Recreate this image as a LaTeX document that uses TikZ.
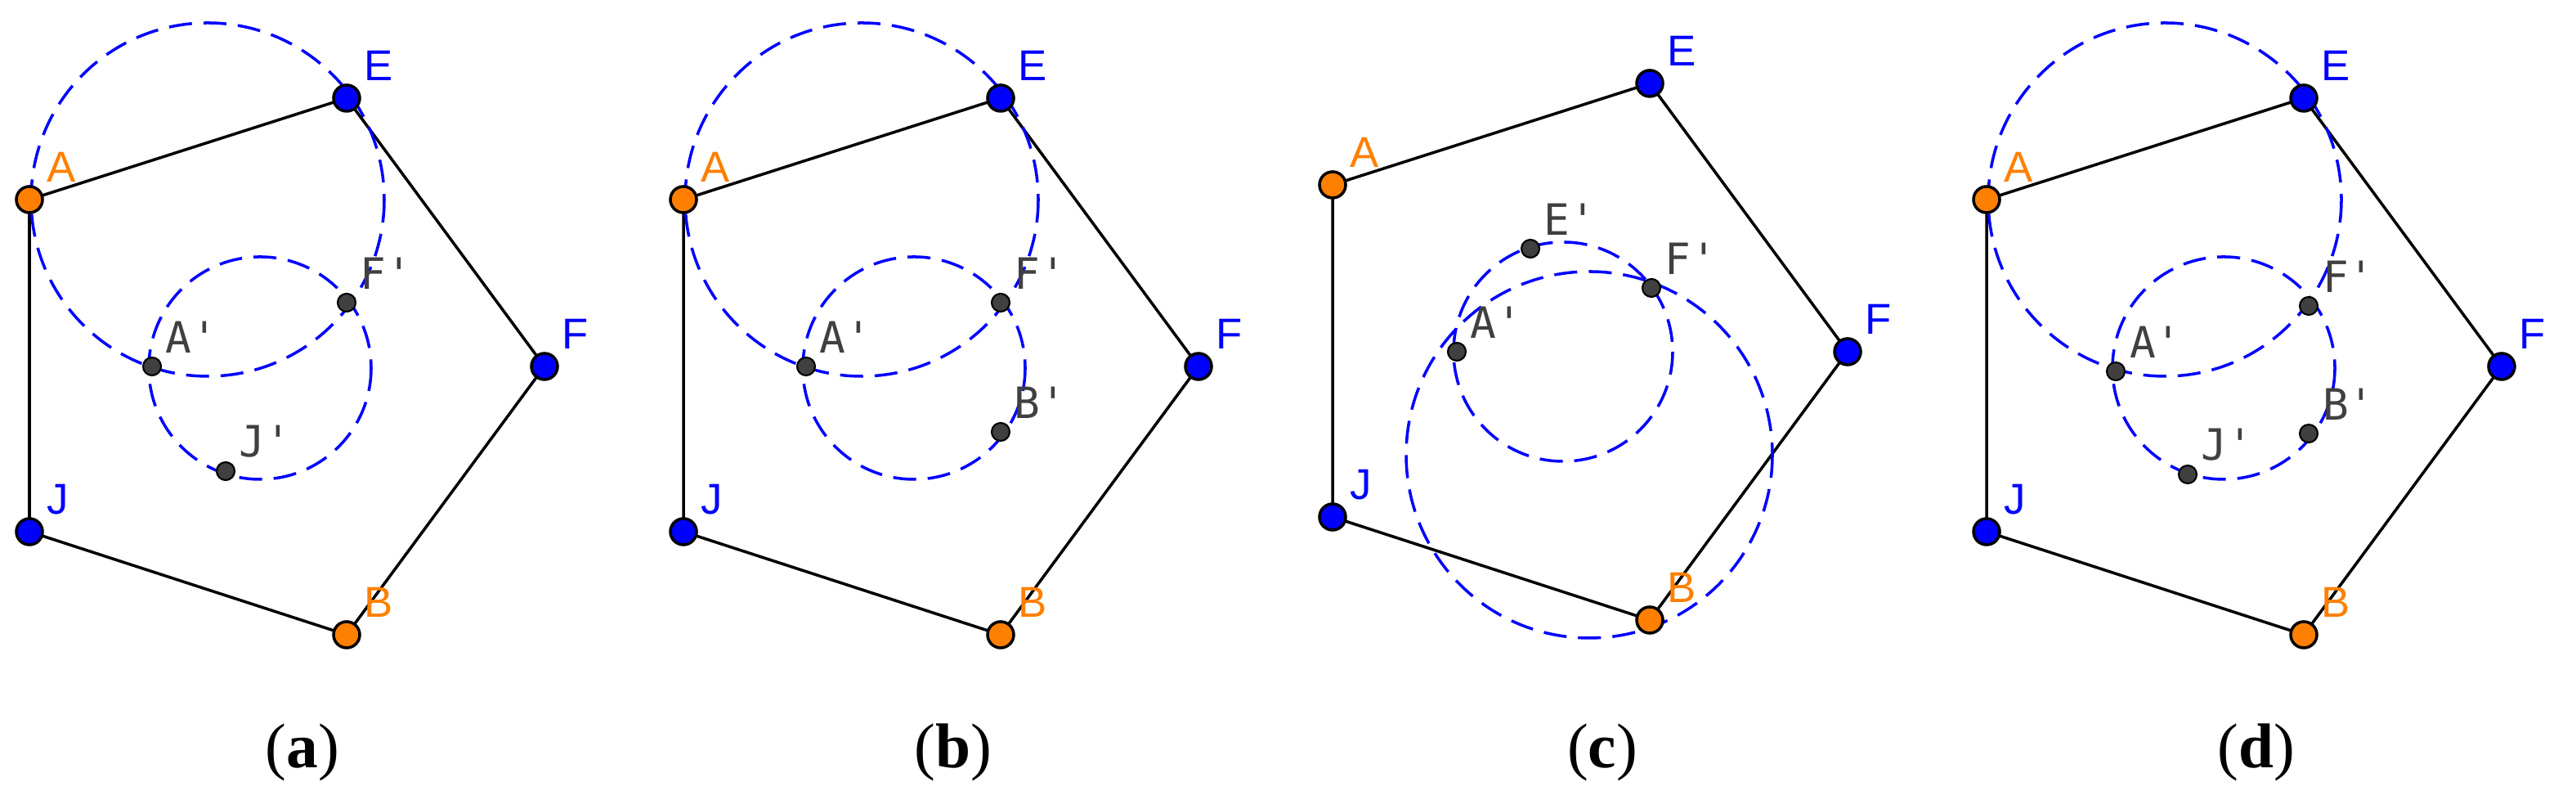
\documentclass[tikz,border=0pt]{standalone}
\usepackage{fontspec}
\setmainfont{Liberation Sans}
\newfontfamily\monofont{DejaVu Sans Mono}
\newfontfamily\capfont{Liberation Serif}
\definecolor{ptblue}{RGB}{0,0,255}
\definecolor{ptorange}{RGB}{255,127,0}
\definecolor{ptgray}{RGB}{64,64,64}
\tikzset{
	bigpt/.style={circle,draw=black,line width=.5pt,inner sep=0pt,minimum size=1.6mm},
	smallpt/.style={circle,fill=ptgray,draw=black,line width=.3pt,inner sep=0pt,minimum size=1.1mm},
	lab/.style={font=\fontsize{7.5}{7.5}\selectfont,inner sep=1pt},
	plab/.style={font=\monofont\fontsize{7.5}{7.5}\selectfont,text=ptgray,inner sep=1pt},
	dashcirc/.style={ptblue,dashed,dash pattern=on 4pt off 2pt,line width=.5pt},
	side/.style={line width=.5pt}
}
\begin{document}
\begin{tikzpicture}[x=.01cm,y=-.01cm]
	\useasboundingbox (0,0) rectangle (1575.5,489);
	% pentagon of one panel, shifted by #1
	\foreach \dx/\dy/\cap in {0/0/a,400/0/b,797/-9/c,1197/0/d}{
	\begin{scope}[shift={(\dx,\dy)}]
		\coordinate (A) at (18,122);
		\coordinate (E) at (212,60);
		\coordinate (F) at (333,224);
		\coordinate (B) at (212,388);
		\coordinate (J) at (18,325);
		\draw[side] (A)--(E)--(F)--(B)--(J)--cycle;
	\end{scope}
	}
	% circles
	\draw[dashcirc] (127,122) circle (108);
	\draw[dashcirc] (159,225) circle (68);
	\draw[dashcirc] (527,122) circle (108);
	\draw[dashcirc] (559,225) circle (68);
	\draw[dashcirc] (956,215) circle (67);
	\draw[dashcirc] (972,278) circle (112);
	\draw[dashcirc] (1324,122) circle (108);
	\draw[dashcirc] (1360,225) circle (68);
	% vertices
	\foreach \dx/\dy/\p in {0/0/a,400/0/b,797/-9/c,1197/0/d}{
	\begin{scope}[shift={(\dx,\dy)}]
		\node[bigpt,fill=ptorange] (A\p) at (18,122) {};
		\node[bigpt,fill=ptblue] (E\p) at (212,60) {};
		\node[bigpt,fill=ptblue] (F\p) at (333,224) {};
		\node[bigpt,fill=ptorange] (B\p) at (212,388) {};
		\node[bigpt,fill=ptblue] (J\p) at (18,325) {};
		\node[lab,text=ptorange,anchor=south west] at (A\p.north east) {A};
		\node[lab,text=ptblue,anchor=south west] at (E\p.north east) {E};
		\node[lab,text=ptblue,anchor=south west] at (F\p.north east) {F};
		\node[lab,text=ptorange,anchor=south west] at (B\p.north east) {B};
		\node[lab,text=ptblue,anchor=south west] at (J\p.north east) {J};
	\end{scope}
	}
	% image points
	\foreach \x/\y/\t [count=\i] in {93/224/A',212/185/F',138/288/J',
		493/224/A',612/185/F',612/264/B',
		936/152/E',1010/176/F',891/215/A',
		1294/227/A',1412/187/F',1412/265/B',1338/290/J'}{
		\node[smallpt] (q\i) at (\x,\y) {};
		\node[plab,anchor=south west] at (q\i.north east) {\t};
	}
	% captions
	\foreach \x/\c in {185/a,583/b,980/c,1380/d}
		\node[font=\capfont\fontsize{11}{11}\selectfont] (cap\c) at (\x,460) {(\textbf{\c})};
\end{tikzpicture}
\end{document}
